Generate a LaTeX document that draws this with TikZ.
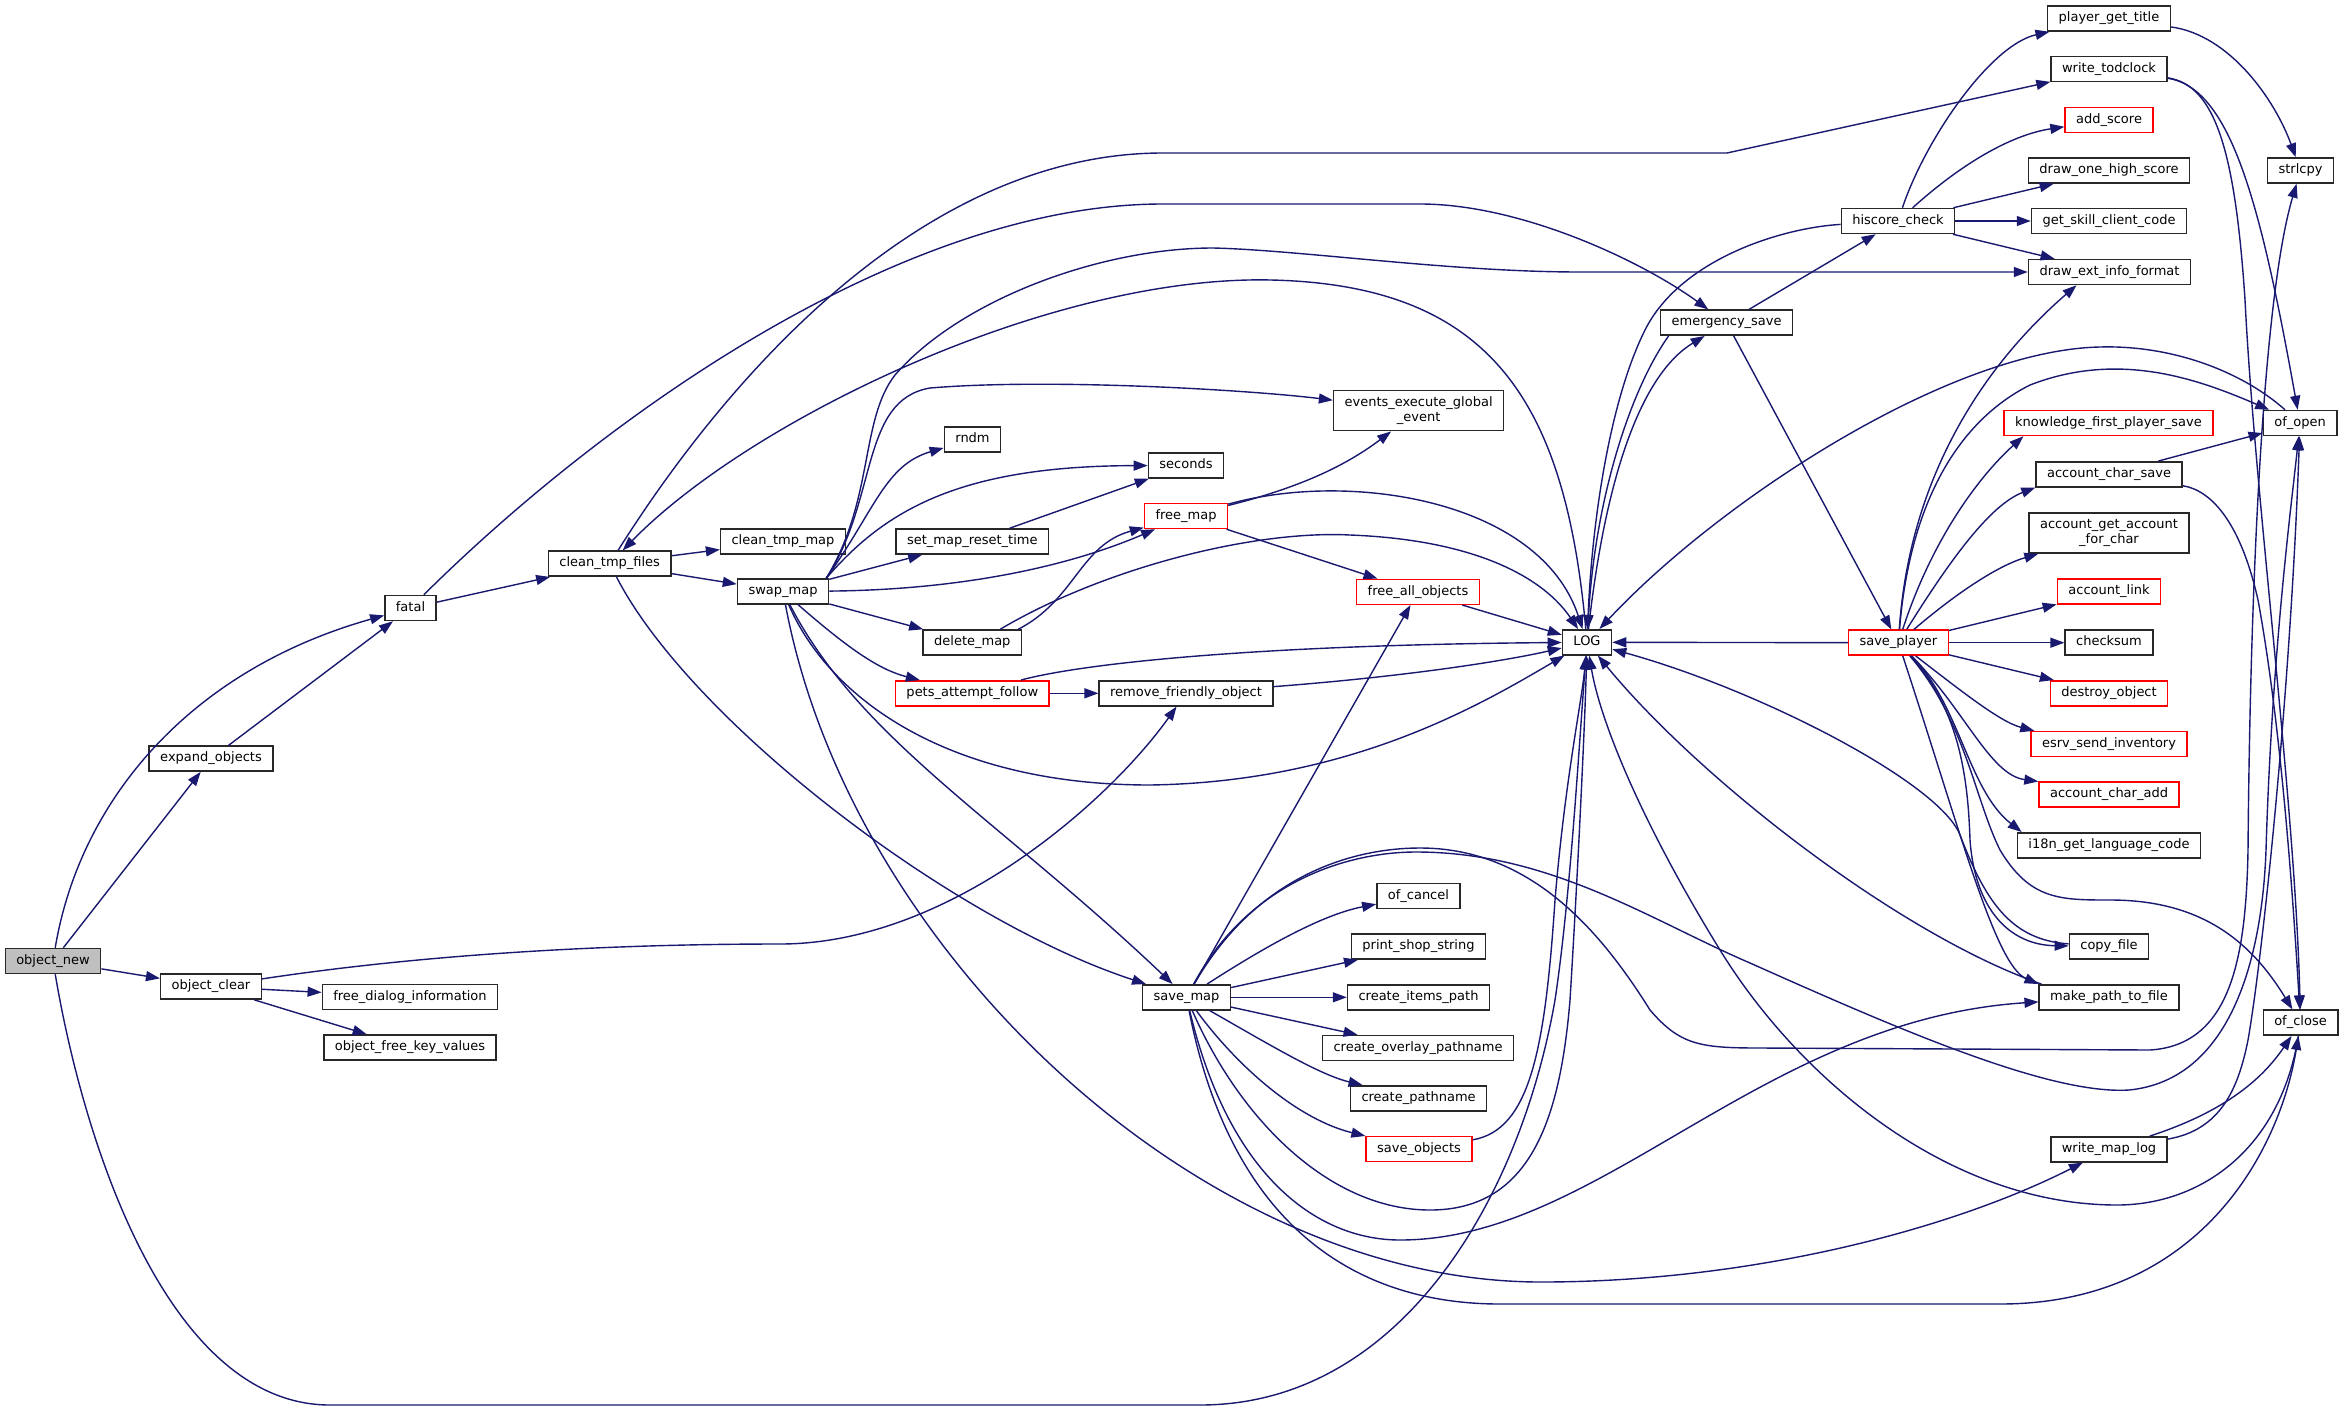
\documentclass[tikz,border=0pt]{standalone}
\usepackage{fontspec}
\setmainfont{DejaVu Sans}
\usetikzlibrary{arrows.meta}
\definecolor{edgeblue}{RGB}{25,25,112}
\definecolor{nodegray}{RGB}{191,191,191}
\definecolor{nodeborder}{RGB}{40,40,40}
\begin{document}
\begin{tikzpicture}[x=1pt,y=-1pt,
  fnbase/.style={draw=nodeborder, line width=1.5pt, fill=white, inner xsep=11pt, inner ysep=0pt,
    minimum height=25pt, font=\fontsize{13}{15}\selectfont, text=black},
  fn/.style={fnbase, text height=9.5pt, text depth=3pt},
  fnred/.style={fn, draw=red},
  fngray/.style={fn, fill=nodegray},
  fntwo/.style={fnbase, align=center, minimum height=40pt},
  cl/.style={draw=edgeblue, line width=1.4pt, -{Triangle[length=14pt,width=10pt]}}]
\path[use as bounding box, fill=white] (0,0) rectangle (2344,1408);

% ---------- nodes ----------
\node[fngray] (object_new) at (53,961) {object\_new};
\node[fn] (expand_objects) at (211,758.6) {expand\_objects};
\node[fn] (object_clear) at (211,986.6) {object\_clear};
\node[fn] (fatal) at (410.5,608) {fatal};
\node[fn] (free_dialog_information) at (410,997) {free\_dialog\_information};
\node[fn] (object_free_key_values) at (410,1047.5) {object\_free\_key\_values};
\node[fn] (clean_tmp_files) at (609.7,563.7) {clean\_tmp\_files};
\node[fn] (clean_tmp_map) at (783,541.5) {clean\_tmp\_map};
\node[fn] (swap_map) at (783,591.5) {swap\_map};
\node[fn] (rndm) at (972.5,439.5) {rndm};
\node[fn] (seconds) at (1186,465.5) {seconds};
\node[fn] (set_map_reset_time) at (972.3,541.5) {set\_map\_reset\_time};
\node[fnred] (free_map) at (1186,516) {free\_map};
\node[fn] (delete_map) at (972.3,642.5) {delete\_map};
\node[fnred] (pets_attempt_follow) at (972.3,693.3) {pets\_attempt\_follow};
\node[fn] (remove_friendly_object) at (1186,693.3) {remove\_friendly\_object};
\node[fntwo] (events_execute_global_event) at (1418.6,410.7) {events\_execute\_global\\\_event};
\node[fnred] (free_all_objects) at (1418,591.8) {free\_all\_objects};
\node[fn] (LOG) at (1587,642.3) {LOG};
\node[fn] (save_map) at (1186.5,997.3) {save\_map};
\node[fn] (of_cancel) at (1418.4,896) {of\_cancel};
\node[fn] (print_shop_string) at (1418.5,946.5) {print\_shop\_string};
\node[fn] (create_items_path) at (1418.5,997.3) {create\_items\_path};
\node[fn] (create_overlay_pathname) at (1418,1048) {create\_overlay\_pathname};
\node[fn] (create_pathname) at (1418.6,1098.3) {create\_pathname};
\node[fnred] (save_objects) at (1419,1149) {save\_objects};
\node[fn] (emergency_save) at (1726.6,322.7) {emergency\_save};
\node[fn] (hiscore_check) at (1898,221) {hiscore\_check};
\node[fnred] (save_player) at (1898.4,642.7) {save\_player};
\node[fn] (player_get_title) at (2109,18.5) {player\_get\_title};
\node[fn] (write_todclock) at (2109,69) {write\_todclock};
\node[fnred] (add_score) at (2109,120) {add\_score};
\node[fn] (draw_one_high_score) at (2109,170.5) {draw\_one\_high\_score};
\node[fn] (get_skill_client_code) at (2109,221) {get\_skill\_client\_code};
\node[fn] (draw_ext_info_format) at (2109.5,272) {draw\_ext\_info\_format};
\node[fn] (strlcpy) at (2300.5,170.5) {strlcpy};
\node[fn] (of_open) at (2300,423) {of\_open};
\node[fnred] (knowledge_first_player_save) at (2108.5,423) {knowledge\_first\_player\_save};
\node[fn] (account_char_save) at (2109,474.3) {account\_char\_save};
\node[fntwo] (account_get_account_for_char) at (2109,533) {account\_get\_account\\\_for\_char};
\node[fnred] (account_link) at (2109,591.7) {account\_link};
\node[fn] (checksum) at (2109,642.7) {checksum};
\node[fnred] (destroy_object) at (2109,693.3) {destroy\_object};
\node[fnred] (esrv_send_inventory) at (2109,744) {esrv\_send\_inventory};
\node[fnred] (account_char_add) at (2109,794.7) {account\_char\_add};
\node[fn] (i18n_get_language_code) at (2109,845.3) {i18n\_get\_language\_code};
\node[fn] (copy_file) at (2109,946.5) {copy\_file};
\node[fn] (make_path_to_file) at (2109,997.3) {make\_path\_to\_file};
\node[fn] (of_close) at (2300.5,1022.7) {of\_close};
\node[fn] (write_map_log) at (2109,1149.3) {write\_map\_log};

\coordinate (swtr) at ([xshift=-3pt]swap_map.north east);

% ---------- object_new ----------
\draw[cl] (object_new) -- (expand_objects);
\draw[cl] (object_new) .. controls (80,800) and (190,670) .. (fatal);
\draw[cl] (expand_objects) -- (fatal);
\draw[cl] (object_new) -- (object_clear);
\draw[cl] (object_new) .. controls (85,1150) and (170,1405) .. (330,1405) -- (1200,1405)
  .. controls (1400,1405) and (1520,1200) .. (1555,1000) .. controls (1570,900) and (1578,760) .. (LOG);

% ---------- fatal / clean_tmp_files ----------
\draw[cl] (fatal) -- (clean_tmp_files);
\draw[cl] (fatal) .. controls (600,420) and (900,204) .. (1163,204) -- (1420,204)
  .. controls (1520,204) and (1640,260) .. (emergency_save);
\draw[cl] (clean_tmp_files) .. controls (700,420) and (900,153) .. (1163,153) -- (1727,153) -- (write_todclock);
\draw[cl] (LOG) .. controls (1565,400) and (1490,285) .. (1271,280) .. controls (1050,275) and (750,420) .. (clean_tmp_files);
\draw[cl] (clean_tmp_files) -- (clean_tmp_map);
\draw[cl] (clean_tmp_files) -- (swap_map);
\draw[cl] (clean_tmp_files) .. controls (690,720) and (950,920) .. (save_map);

% ---------- swap_map ----------
\draw[cl] (swtr) .. controls (875,510) and (885,465) .. (rndm);
\draw[cl] (swtr) .. controls (878,500) and (860,400) .. (930,388) .. controls (1050,378) and (1250,390) .. (events_execute_global_event);
\draw[cl] (swtr) .. controls (885,510) and (960,466) .. (seconds);
\draw[cl] (swap_map) -- (set_map_reset_time);
\draw[cl] (set_map_reset_time) -- (seconds);
\draw[cl] (swap_map) .. controls (950,590) and (1060,570) .. (free_map);
\draw[cl] (swap_map) -- (delete_map);
\draw[cl] (swap_map) .. controls (850,650) and (880,670) .. (pets_attempt_follow);
\draw[cl] (swap_map) .. controls (830,700) and (950,785) .. (1150,785) .. controls (1350,782) and (1480,705) .. (LOG);
\draw[cl] (swap_map) .. controls (860,740) and (1000,820) .. (save_map);
\draw[cl] (swap_map) .. controls (850,950) and (1200,1282) .. (1541,1282) .. controls (1750,1282) and (1950,1230) .. (write_map_log);
\draw[cl] (swtr) .. controls (874,500) and (860,420) .. (895,375) .. controls (960,300) and (1100,248) .. (1213,248)
  .. controls (1300,250) and (1450,272) .. (1580,272) -- (draw_ext_info_format);

% ---------- free_map / delete_map / pets ----------
\draw[cl] (free_map) .. controls (1290,490) and (1340,470) .. (events_execute_global_event);
\draw[cl] (free_map) .. controls (1350,470) and (1540,500) .. (LOG);
\draw[cl] (free_map) -- (free_all_objects);
\draw[cl] ([xshift=-4pt]delete_map.north east) .. controls (1075,600) and (1080,545) .. (free_map);
\draw[cl] ([xshift=-22pt]delete_map.north east) .. controls (1100,570) and (1250,530) .. (1350,535)
  .. controls (1480,540) and (1545,580) .. (LOG);
\draw[cl] (pets_attempt_follow) -- (remove_friendly_object);
\draw[cl] (pets_attempt_follow) .. controls (1080,664) and (1250,645) .. (LOG);
\draw[cl] (remove_friendly_object) .. controls (1400,677) and (1500,662) .. (LOG);
\draw[cl] (free_all_objects) -- (LOG);

% ---------- object_clear ----------
\draw[cl] (object_clear) -- (free_dialog_information);
\draw[cl] (object_clear) -- (object_free_key_values);
\draw[cl] (object_clear) .. controls (420,955) and (600,944) .. (780,944) .. controls (950,944) and (1110,800) .. (remove_friendly_object);

% ---------- save_map ----------
\draw[cl] (save_map) -- (free_all_objects);
\draw[cl] (save_map) .. controls (1260,950) and (1320,915) .. (of_cancel);
\draw[cl] (save_map) -- (print_shop_string);
\draw[cl] (save_map) -- (create_items_path);
\draw[cl] (save_map) -- (create_overlay_pathname);
\draw[cl] (save_map) .. controls (1270,1045) and (1320,1075) .. (create_pathname);
\draw[cl] (save_map) .. controls (1240,1070) and (1300,1120) .. (save_objects);
\draw[cl] (save_objects) .. controls (1530,1130) and (1545,1050) .. (1555,900) .. controls (1565,780) and (1582,700) .. (LOG);
\draw[cl] (save_map) .. controls (1240,1120) and (1330,1210) .. (1430,1210) .. controls (1530,1210) and (1560,1120) .. (1570,1000)
  .. controls (1578,870) and (1585,720) .. (LOG);
\draw[cl] (save_map) .. controls (1230,1180) and (1320,1240) .. (1400,1240) .. controls (1600,1240) and (1760,1020) .. (make_path_to_file);
\draw[cl] (save_map) .. controls (1230,1220) and (1350,1304) .. (1500,1304) -- (2000,1304)
  .. controls (2200,1304) and (2280,1150) .. (of_close);
\draw[cl] (save_map) .. controls (1260,870) and (1360,848) .. (1420,848) .. controls (1530,848) and (1600,930) .. (1650,1010)
  .. controls (1680,1045) and (1700,1048) .. (1760,1048) -- (2150,1050)
  .. controls (2230,1045) and (2246,960) .. (2248,850) .. controls (2250,600) and (2262,300) .. (strlcpy);
\draw[cl] (save_map) .. controls (1250,880) and (1350,852) .. (1416,852) .. controls (1550,852) and (1650,920) .. (1750,963)
  .. controls (1900,1030) and (2050,1095) .. (2129,1090) .. controls (2230,1080) and (2262,960) .. (2266,850)
  .. controls (2272,650) and (2292,500) .. (of_open);

% ---------- write_map_log / of_close / make_path / copy_file ----------
\draw[cl] (write_map_log) .. controls (2230,1110) and (2265,1075) .. (of_close);
\draw[cl] (write_map_log) .. controls (2220,1130) and (2238,1090) .. (2248,1040) .. controls (2262,960) and (2290,700) .. (of_open);
\draw[cl] (of_close) .. controls (2280,1150) and (2200,1205) .. (2117,1205) .. controls (1950,1205) and (1800,1080) .. (1720,950)
  .. controls (1640,820) and (1600,720) .. (LOG);
\draw[cl] ([xshift=3pt]make_path_to_file.north west) .. controls (1900,935) and (1700,780) .. (LOG);
\draw[cl] (copy_file) .. controls (2010,940) and (1985,900) .. (1960,835) .. controls (1940,783) and (1760,690) .. (LOG);

% ---------- save_player ----------
\draw[cl] (save_player) .. controls (1960,710) and (1968,780) .. (1970,840) .. controls (1975,910) and (2010,945) .. (copy_file);
\draw[cl] (save_player) .. controls (1960,830) and (1995,965) .. (make_path_to_file.north west);
\draw[cl] (save_player) .. controls (1965,720) and (1975,800) .. (2000,850) .. controls (2030,900) and (2060,900) .. (2110,900)
  .. controls (2200,900) and (2250,940) .. (of_close);
\draw[cl] (save_player) .. controls (1960,705) and (1968,790) .. ([xshift=5pt]i18n_get_language_code.north west);
\draw[cl] (save_player) .. controls (1965,710) and (1990,775) .. (account_char_add.north west);
\draw[cl] (save_player) .. controls (1960,690) and (2000,722) .. ([xshift=4pt]esrv_send_inventory.north west);
\draw[cl] (save_player) -- (destroy_object);
\draw[cl] (save_player) -- (checksum);
\draw[cl] (save_player) -- (account_link);
\draw[cl] (save_player) .. controls (1960,590) and (2000,565) .. (account_get_account_for_char);
\draw[cl] (save_player) .. controls (1950,560) and (1990,505) .. (account_char_save.south west);
\draw[cl] (save_player) .. controls (1930,545) and (1975,480) .. ([xshift=20pt]knowledge_first_player_save.south west);
\draw[cl] (save_player) .. controls (1910,470) and (1990,360) .. ([xshift=-33pt]draw_ext_info_format.south);
\draw[cl] (save_player) .. controls (1910,500) and (1960,420) .. (2030,385) .. controls (2120,350) and (2200,380) .. (of_open);
\draw[cl] (save_player) -- (LOG);

% ---------- emergency_save / hiscore_check ----------
\draw[cl] (emergency_save) -- (hiscore_check);
\draw[cl] (emergency_save) -- (save_player);
\draw[cl] ([xshift=-58pt]emergency_save.south) .. controls (1630,390) and (1595,500) .. (LOG);
\draw[cl] (LOG) .. controls (1605,480) and (1640,375) .. (emergency_save);
\draw[cl] (hiscore_check) .. controls (1925,140) and (1990,45) .. (player_get_title);
\draw[cl] (hiscore_check) .. controls (1960,165) and (2010,135) .. (add_score);
\draw[cl] (hiscore_check) -- (draw_one_high_score);
\draw[cl] (hiscore_check) -- (get_skill_client_code);
\draw[cl] (hiscore_check) -- (draw_ext_info_format);
\draw[cl] (hiscore_check) .. controls (1780,228) and (1680,260) .. (1645,330) .. controls (1610,400) and (1592,520) .. (LOG);

% ---------- top right ----------
\draw[cl] (player_get_title) .. controls (2230,35) and (2275,100) .. (strlcpy);
\draw[cl] (write_todclock) .. controls (2230,88) and (2260,200) .. (of_open);
\draw[cl] (write_todclock) .. controls (2215,85) and (2235,150) .. (2245,300) .. controls (2255,500) and (2295,800) .. (of_close);
\draw[cl] (account_char_save) -- (of_open);
\draw[cl] (account_char_save) .. controls (2210,490) and (2240,520) .. (2258,600) .. controls (2280,720) and (2292,880) .. (of_close);
\draw[cl] (of_open) .. controls (2240,370) and (2170,345) .. (2100,347) .. controls (1950,350) and (1720,500) .. (LOG);
\end{tikzpicture}
\end{document}
